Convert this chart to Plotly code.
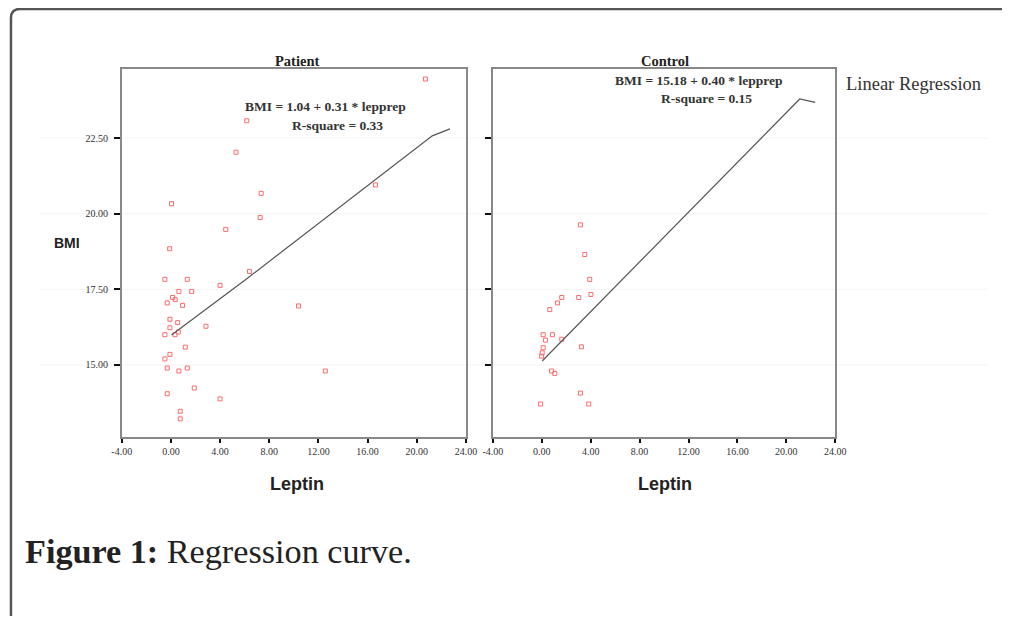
import plotly.graph_objects as go

# page body has an 8px margin; keep the figure inside the 1010x624 window
OFF = 8
W, H = 1010 - 2 * OFF, 608

# ---- data ----
patient_leptin = [20.7, 6.17, 5.3, 7.34, 16.64, 0.05, 7.26, 4.46, -0.1, 6.39, -0.49, 1.33, 4.0,
                  0.65, 1.69, 0.14, 0.35, -0.3, 0.95, 10.38, -0.08, 0.55, -0.08, 2.85, -0.49,
                  0.33, 0.6, 1.17, -0.08, -0.49, -0.3, 0.65, 1.33, 12.56, 1.9, -0.3, 4.0, 0.76, 0.76]
patient_bmi = [24.45, 23.07, 22.03, 20.67, 20.95, 20.33, 19.87, 19.48, 18.84, 18.09, 17.83, 17.83,
               17.63, 17.43, 17.43, 17.23, 17.16, 17.05, 16.97, 16.95, 16.51, 16.4, 16.23, 16.28,
               16.0, 16.0, 16.09, 15.59, 15.35, 15.2, 14.9, 14.8, 14.9, 14.8, 14.24, 14.05, 13.88,
               13.47, 13.22]
patient_fit_x = [0.05, 6.17, 21.26, 22.7]
patient_fit_y = [15.99, 17.85, 22.57, 22.8]

control_leptin = [3.16, 3.51, 3.92, 4.02, 1.63, 3.02, 1.28, 0.65, 0.11, 0.87, 0.3, 1.63, 0.11,
                  3.24, 0.03, -0.02, 0.8, 1.06, 3.16, -0.1, 3.84]
control_bmi = [19.63, 18.65, 17.83, 17.33, 17.23, 17.23, 17.05, 16.83, 16.0, 16.0, 15.82, 15.85,
               15.57, 15.6, 15.4, 15.29, 14.8, 14.72, 14.07, 13.71, 13.71]
control_fit_x = [0.03, 21.1, 22.37]
control_fit_y = [15.13, 23.79, 23.68]

x_ticks = [-4, 0, 4, 8, 12, 16, 20, 24]
x_tick_labels = ["-4.00", "0.00", "4.00", "8.00", "12.00", "16.00", "20.00", "24.00"]
y_ticks = [15.0, 17.5, 20.0, 22.5]
y_tick_labels = ["15.00", "17.50", "20.00", "22.50"]

panel_titles = ["Patient", "Control"]
equations = ["BMI = 1.04 + 0.31 * lepprep", "BMI = 15.18 + 0.40 * lepprep"]
rsquares = ["R-square = 0.33", "R-square = 0.15"]


def px(x):
    # horizontal placement calibrated against the rendered page
    xs = (x - 10.2) / 0.981
    return (xs - OFF) / W


def py(y):
    return 1 - (y - OFF) / H


marker = dict(symbol="square-open", size=4, color="#ff6b6b", line=dict(width=1, color="#ff6b6b"))
fit_line = dict(color="#555555", width=1.2)

fig = go.Figure()
fig.add_trace(go.Scatter(x=patient_leptin, y=patient_bmi, mode="markers", marker=marker,
                         xaxis="x", yaxis="y", showlegend=False))
fig.add_trace(go.Scatter(x=patient_fit_x, y=patient_fit_y, mode="lines", line=fit_line,
                         xaxis="x", yaxis="y", showlegend=False))
fig.add_trace(go.Scatter(x=control_leptin, y=control_bmi, mode="markers", marker=marker,
                         xaxis="x2", yaxis="y2", showlegend=False))
fig.add_trace(go.Scatter(x=control_fit_x, y=control_fit_y, mode="lines", line=fit_line,
                         xaxis="x2", yaxis="y2", showlegend=False))

tickfont = dict(family="Liberation Serif", size=10, color="#333333")
xcommon = dict(range=[-4, 24], tickvals=x_ticks, ticktext=x_tick_labels, ticks="outside",
               ticklen=4, tickwidth=2, tickcolor="#111111", showgrid=False, zeroline=False,
               showline=True, linecolor="#888888", linewidth=1.5, mirror=True,
               tickfont=tickfont, fixedrange=True)
ycommon = dict(range=[12.62, 24.78], tickvals=y_ticks, ticks="outside", ticklen=6,
               tickwidth=2, tickcolor="#111111", showgrid=False, zeroline=False,
               showline=True, linecolor="#888888", linewidth=1.5, mirror=True,
               tickfont=tickfont, fixedrange=True)

fig.update_layout(
    width=W, height=H, autosize=False,
    margin=dict(l=0, r=0, t=0, b=0),
    paper_bgcolor="white", plot_bgcolor="white",
    xaxis=dict(domain=[px(122), px(467)], anchor="y", **xcommon),
    yaxis=dict(domain=[py(437), py(69)], anchor="x", ticktext=y_tick_labels,
               ticklabelstandoff=4, **ycommon),
    xaxis2=dict(domain=[px(494), px(837)], anchor="y2", **xcommon),
    yaxis2=dict(domain=[py(437), py(69)], anchor="x2", showticklabels=False, **ycommon),
)

# faint horizontal bands across the figure at the y ticks
for yv in y_ticks:
    fig.add_shape(type="line", xref="paper", yref="y", x0=px(40), x1=px(990), y0=yv, y1=yv,
                  line=dict(color="#f3f3f3", width=1), layer="below")

# outer rounded frame (open to the right and bottom)
fig.add_shape(type="path", xref="paper", yref="paper",
              path=f"M {px(11)},{py(640)} L {px(11)},{py(18)} Q {px(11)},{py(9)} {px(20)},{py(9)} L {px(1030)},{py(9)}",
              line=dict(color="#555555", width=2.5))

serif = "Liberation Serif"
ann = []


def add_text(x, y, text, family, size, color="#222222", xanchor="center"):
    ann.append(dict(x=px(x), y=py(y), xref="paper", yref="paper", text=text, showarrow=False,
                    font=dict(family=family, size=size, color=color),
                    xanchor=xanchor, yanchor="middle"))


centers = [298, 666]
for i, c in enumerate(centers):
    add_text(c, 61, f"<b>{panel_titles[i]}</b>", serif, 14.5)
    add_text(c, 484, "<b>Leptin</b>", "Liberation Sans", 18)

add_text(326, 106, f"<b>{equations[0]}</b>", serif, 13.5, "#333333")
add_text(338, 126, f"<b>{rsquares[0]}</b>", serif, 13.5, "#333333")
add_text(700, 80, f"<b>{equations[1]}</b>", serif, 13.5, "#333333")
add_text(708, 98, f"<b>{rsquares[1]}</b>", serif, 13.5, "#333333")

add_text(67, 243, "<b>BMI</b>", "Liberation Sans", 14)
add_text(846, 84, "Linear Regression", serif, 18.5, "#333333", "left")
add_text(23, 551, "<b>Figure 1:</b> Regression curve.", serif, 34.2, "#222222", "left")

fig.update_layout(annotations=ann)

fig.write_html("out.html", config={"displayModeBar": False})
